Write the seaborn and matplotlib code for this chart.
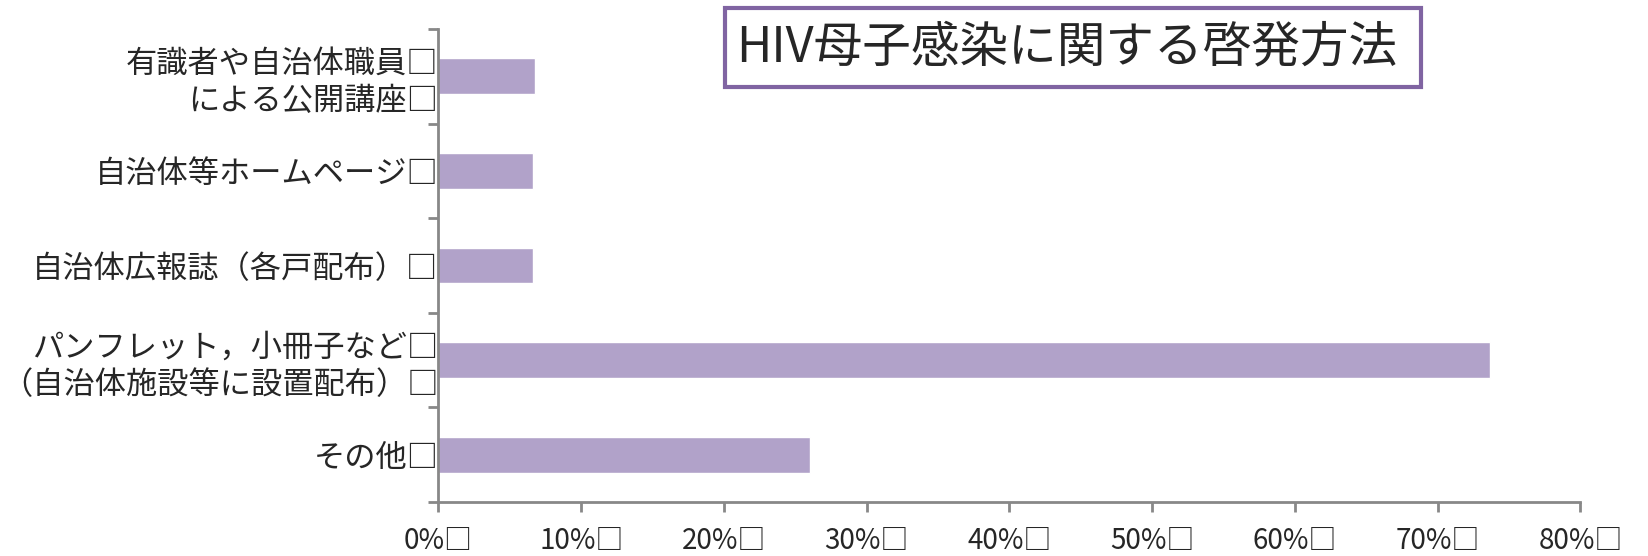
import matplotlib
matplotlib.use("Agg")
import matplotlib.pyplot as plt
from matplotlib.patches import Rectangle
from matplotlib.ticker import FixedLocator
import seaborn as sns

categories = [
    "有識者や自治体職員□\nによる公開講座□",
    "自治体等ホームページ□",
    "自治体広報誌（各戸配布）□",
    "パンフレット，小冊子など□\n（自治体施設等に設置配布）□",
    "その他□",
]
percentages = [6.8, 6.6, 6.6, 73.7, 26.0]
x_ticks = [0, 10, 20, 30, 40, 50, 60, 70, 80]
x_tick_labels = [f"{t}%□" for t in x_ticks]
title = "HIV母子感染に関する啓発方法"

bar_color = "#b1a2c9"
spine_color = "#888888"
frame_color = "#8064a2"

sns.set_theme(style="white")
plt.rcParams["font.family"] = ["Noto Sans CJK JP", "DejaVu Sans"]

fig = plt.figure(figsize=(16.48, 5.56), dpi=100)
ax = fig.add_axes([0.266, 0.097, 0.693, 0.851])

sns.barplot(x=percentages, y=categories, orient="h", color=bar_color,
            width=0.38, saturation=1, ax=ax)

ax.set_xlim(0, 80)
ax.set_ylim(len(categories) - 0.5, -0.5)
ax.set_xticks(x_ticks)
ax.set_xticklabels(x_tick_labels, fontsize=20,
                   family=["Liberation Sans Narrow", "Noto Sans CJK JP"])

# category boundaries carry the tick marks, labels stay centred
ax.yaxis.set_minor_locator(FixedLocator([i - 0.5 for i in range(len(categories) + 1)]))
ax.tick_params(axis="y", which="major", length=0, pad=0, labelsize=22.5)
ax.tick_params(axis="y", which="minor", length=7, width=2, color=spine_color, direction="out", left=True)
ax.tick_params(axis="x", which="major", length=7, width=2, color=spine_color,
               direction="out", bottom=True, pad=10)
for lbl in ax.get_yticklabels():
    lbl.set_linespacing(1.2)

ax.set_xlabel("")
ax.set_ylabel("")
for side in ["top", "right"]:
    ax.spines[side].set_visible(False)
for side in ["left", "bottom"]:
    ax.spines[side].set_color(spine_color)
    ax.spines[side].set_linewidth(2)

# title box
fig.patches.append(Rectangle((725 / 1648, 1 - 87 / 556), 696 / 1648, 79 / 556,
                             transform=fig.transFigure, facecolor="white",
                             edgecolor=frame_color, linewidth=3, zorder=5))
fig.text(1067 / 1648, 1 - 48 / 556, title, fontsize=35, ha="center", va="center", zorder=6)

fig.savefig("out.png", dpi=100)
